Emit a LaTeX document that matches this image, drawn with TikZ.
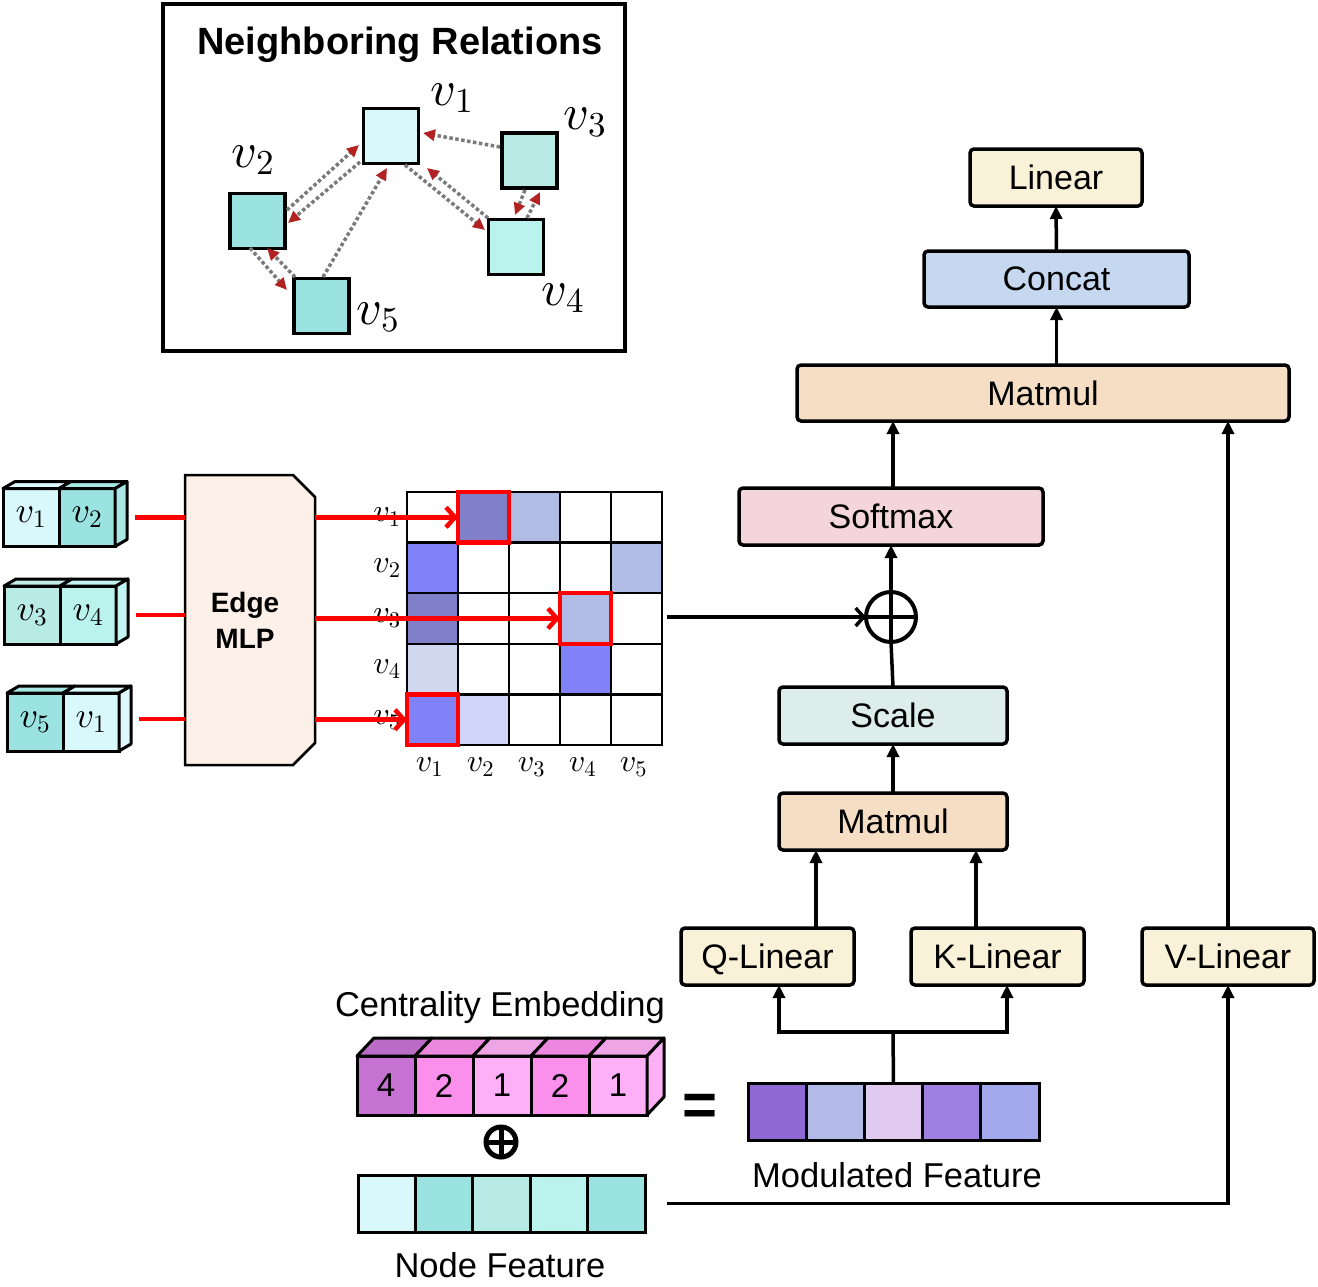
\documentclass[tikz,border=0pt]{standalone}
\usepackage[no-math]{fontspec}
\setmainfont{Liberation Sans}
\DeclareFontFamily{OML}{cmm}{\skewchar\font'177}
\DeclareFontShape{OML}{cmm}{m}{it}{<->cmmi10}{}
\DeclareFontFamily{OT1}{cmr}{\hyphenchar\font45 }
\DeclareFontShape{OT1}{cmr}{m}{n}{<->cmr10}{}
\DeclareFontFamily{OMS}{cmsy}{\skewchar\font'60}
\DeclareFontShape{OMS}{cmsy}{m}{n}{<->cmsy10}{}
\usetikzlibrary{arrows.meta,shapes.misc,calc}
\definecolor{cA}{HTML}{D8F8FC}
\definecolor{cB}{HTML}{9AE3E0}
\definecolor{cC}{HTML}{B8EAE6}
\definecolor{cD}{HTML}{BAF2EE}
\definecolor{dred}{HTML}{B22222}
\definecolor{mA}{HTML}{8080C8}
\definecolor{mB}{HTML}{8282F8}
\definecolor{mC}{HTML}{B0BCE4}
\definecolor{mD}{HTML}{D0D8F0}
\definecolor{mE}{HTML}{D0D4F8}
\definecolor{eA}{HTML}{C572D2}
\definecolor{eB}{HTML}{FA90EC}
\definecolor{eC}{HTML}{FDB0F5}
\definecolor{qA}{HTML}{9068D4}
\definecolor{qB}{HTML}{B4BAE8}
\definecolor{qC}{HTML}{E0CAF0}
\definecolor{qD}{HTML}{9E80E0}
\definecolor{qE}{HTML}{A4A8EC}
\definecolor{bLin}{HTML}{FAF2D8}
\definecolor{bCat}{HTML}{C5D8F0}
\definecolor{bMat}{HTML}{F5DEC4}
\definecolor{bSof}{HTML}{F5D5DD}
\definecolor{bSca}{HTML}{DDEEEA}
\definecolor{bMlp}{HTML}{FCF0E8}
\begin{document}
\begin{tikzpicture}[x=1pt,y=-1pt,
  every node/.style={outer sep=0pt, inner sep=0pt},
  blk/.style={draw, line width=3.5pt, rounded corners=4pt, text depth=0pt, font=\fontsize{34}{40}\selectfont},
  arr/.style={line width=3.5pt, -{Triangle[length=13pt,width=12pt]}},
  ln/.style={line width=3.5pt},
  gsq/.style={draw, line width=3.5pt, minimum width=55, minimum height=55},
  dedge/.style={line width=3.5pt, draw=black!52, dash pattern=on 3.5pt off 2.5pt, -{Triangle[length=12pt,width=11pt,color=dred]}},
  glab/.style={font=\fontsize{50}{60}\selectfont},
  pcell/.style={draw, line width=3pt, minimum width=56, minimum height=58, font=\fontsize{36}{42}\selectfont},
  face/.style={draw, line width=3pt, line join=round},
  redl/.style={draw=red, line width=4.5pt},
  redarr/.style={draw=red, line width=4.5pt, -{Straight Barb[length=9pt,width=20pt]}},
  mcell/.style={draw, line width=2.5pt, minimum width=51, minimum height=50.6},
  mlab/.style={font=\fontsize{32}{38}\selectfont},
  hl/.style={draw=red, line width=4.5pt},
  ecell/.style={draw, line width=3pt, minimum width=58, minimum height=59, font=\fontsize{33}{40}\selectfont},
  ncell/.style={draw, line width=3pt, minimum width=57.4, minimum height=57},
  qcell/.style={draw, line width=3pt, minimum width=58.2, minimum height=57},
  txt/.style={font=\fontsize{34.5}{40}\selectfont}
]
\useasboundingbox (0,0) rectangle (1318,1286);

% ---------- Neighboring relations ----------
\node[draw, line width=3.5pt, minimum width=462, minimum height=347] (gbox) at (394,177.5) {};
\node[font=\fontsize{38}{44}\selectfont\bfseries] (title) at (400,45) {Neighboring Relations};
\node[gsq, fill=cA] (g1) at (391,136) {};
\node[gsq, fill=cB] (g2) at (257.5,221) {};
\node[gsq, fill=cC] (g3) at (529.5,160.5) {};
\node[gsq, fill=cD] (g4) at (516,247) {};
\node[gsq, fill=cB] (g5) at (321.5,306) {};
\node[glab] (l1) at (452,98) {$v_1$};
\node[glab] (l2) at (253,160) {$v_2$};
\node[glab] (l3) at (585,122) {$v_3$};
\node[glab] (l4) at (563,298) {$v_4$};
\node[glab] (l5) at (378,317) {$v_5$};
\draw[dedge] ($(g2.center)+(29.5,-11)$) -- ($(g1.center)+(-32,9)$);
\draw[dedge] ($(g1.center)+(-31,26)$) -- ($(g2.center)+(30.5,2)$);
\draw[dedge] ($(g5.center)+(1.5,-29)$) -- ($(g1.center)+(-4,32)$);
\draw[dedge] ($(g3.center)+(-29.5,-13.5)$) -- ($(g1.center)+(32,-3)$);
\draw[dedge] ($(g1.center)+(14,29)$) -- ($(g4.center)+(-31,-17)$);
\draw[dedge] ($(g4.center)+(-28,-29)$) -- ($(g1.center)+(36,32)$);
\draw[dedge] ($(g3.center)+(-4.5,29.5)$) -- ($(g4.center)+(-1,-32)$);
\draw[dedge] ($(g4.center)+(11,-29)$) -- ($(g3.center)+(10.5,31.5)$);
\draw[dedge] ($(g2.center)+(-7.5,27)$) -- ($(g5.center)+(-34.5,-16)$);
\draw[dedge] ($(g5.center)+(-26.5,-29)$) -- ($(g2.center)+(9.5,27)$);

% ---------- node pairs ----------
\node[pcell, fill=cA] (p1a) at (31,517.5) {$v_1$};
\node[pcell, fill=cB] (p1b) at (87,517.5) {$v_2$};
\node[pcell, fill=cC] (p2a) at (32,615) {$v_3$};
\node[pcell, fill=cD] (p2b) at (88,615) {$v_4$};
\node[pcell, fill=cB] (p3a) at (35,722) {$v_5$};
\node[pcell, fill=cA] (p3b) at (91,722) {$v_1$};
\foreach \a/\b/\ca/\cb in {p1a/p1b/cA/cB, p2a/p2b/cC/cD, p3a/p3b/cB/cA}{
  \filldraw[face, fill=\ca!85!white] (\a.north west) -- ++(12,-7) -- ($(\a.north east)+(12,-7)$) -- (\a.north east) -- cycle;
  \filldraw[face, fill=\cb!85!white] (\b.north west) -- ++(12,-7) -- ($(\b.north east)+(12,-7)$) -- (\b.north east) -- cycle;
  \filldraw[face, fill=\cb!85!white] (\b.north east) -- ++(12,-7) -- ++(0,58) -- (\b.south east) -- cycle;
}

% ---------- Edge MLP ----------
\node[chamfered rectangle, chamfered rectangle corners={north east,south east},
      chamfered rectangle xsep=11pt, chamfered rectangle ysep=11pt,
      draw, line width=2.5pt, fill=bMlp, minimum width=130, minimum height=290,
      font=\fontsize{28}{36}\selectfont\bfseries, align=center] (mlp) at (250,620) {Edge\hspace*{10pt}\\MLP\hspace*{10pt}};
\draw[redl] ($(p1b.east)+(20,0)$) -- (p1b.east -| mlp.west);
\draw[redl] ($(p2b.east)+(20,0)$) -- (p2b.east -| mlp.west);
\draw[redl] ($(p3b.east)+(20,-3)$) -- ($(p3b.east -| mlp.west)+(0,-3)$);

% ---------- attention matrix ----------
\foreach \r/\c/\col in {1/1/white,1/2/mA,1/3/mC,1/4/white,1/5/white,
  2/1/mB,2/2/white,2/3/white,2/4/white,2/5/mC,
  3/1/mA,3/2/white,3/3/white,3/4/mC,3/5/white,
  4/1/mD,4/2/white,4/3/white,4/4/mB,4/5/white,
  5/1/mB,5/2/mE,5/3/white,5/4/white,5/5/white}{
  \node[mcell, fill=\col] (c\r\c) at ({407+(\c-0.5)*51},{492+(\r-0.5)*50.6}) {};
}
\node[minimum width=255, minimum height=253] (mat) at (534.5,618.5) {};
\foreach \i in {1,...,5}{
  \node[mlab] (rl\i) at (387,{492+(\i-0.5)*50.6}) {$v_\i$};
  \node[mlab] (cl\i) at ({404+(\i-0.5)*51},767) {$v_\i$};
}
\draw[hl] (c12.north west) rectangle (c12.south east);
\draw[hl] (c34.north west) rectangle (c34.south east);
\draw[hl] (c51.north west) rectangle (c51.south east);
\draw[redarr] (mlp.east |- c12.west) -- (c12.west);
\draw[redarr] (mlp.east |- c34.west) -- (c34.west);
\draw[redarr] (mlp.east |- c51.west) -- (c51.west);

% ---------- attention blocks ----------
\node[blk, fill=bLin, minimum width=172, minimum height=57] (lin) at (1056,177.5) {Linear};
\node[blk, fill=bCat, minimum width=265, minimum height=56] (cat) at (1056.5,279) {Concat};
\node[blk, fill=bMat, minimum width=492, minimum height=56] (mm1) at (1043,393) {Matmul};
\node[blk, fill=bSof, minimum width=304, minimum height=57] (sof) at (891,516.5) {Softmax};
\node[blk, fill=bSca, minimum width=228, minimum height=57] (sca) at (893,715.5) {Scale};
\node[blk, fill=bMat, minimum width=228, minimum height=57] (mm2) at (893,821.5) {Matmul};
\node[blk, fill=bLin, minimum width=173, minimum height=57] (ql) at (767.5,956.5) {Q-Linear};
\node[blk, fill=bLin, minimum width=173, minimum height=57] (kl) at (997.5,956.5) {K-Linear};
\node[blk, fill=bLin, minimum width=172, minimum height=57] (vl) at (1228,956.5) {V-Linear};
\node[circle, draw, line width=4pt, minimum size=50] (opl) at (891,617) {};
\draw[line width=4pt] (opl.north) -- (opl.south);
\draw[line width=4pt] (opl.west) -- (opl.east);

\draw[arr] (cat.north) -- (lin.south);
\draw[arr] (mm1.north -| cat.north) -- (cat.south);
\draw[arr] ([xshift=2pt]sof.north) -- ([xshift=2pt]sof.north |- mm1.south);
\draw[arr] (vl.north) -- (vl.north |- mm1.south);
\draw[arr] (opl.north) -- (sof.south);
\draw[ln] (sca.north) -- (opl.south);
\draw[arr] (mm2.north) -- (sca.south);
\draw[arr] ([xshift=48.5pt]ql.north) -- ([xshift=48.5pt]ql.north |- mm2.south);
\draw[arr] ([xshift=-21.5pt]kl.north) -- ([xshift=-21.5pt]kl.north |- mm2.south);
\draw[line width=3.5pt, -{Straight Barb[length=8pt,width=18pt]}, shorten <=5pt] (mat.east |- opl.west) -- (opl.west);

% ---------- centrality embedding ----------
\node[txt] (celab) at (500,1008) {Centrality Embedding};
\foreach \i/\col/\v in {1/eA/4,2/eB/2,3/eC/1,4/eB/2,5/eC/1}{
  \node[ecell, fill=\col] (e\i) at ({357+(\i-0.5)*58},1085.5) {\v};
  \filldraw[face, fill=\col!94!black] (e\i.north west) -- ++(17,-18) -- ($(e\i.north east)+(17,-18)$) -- (e\i.north east) -- cycle;
}
\filldraw[face, fill=eC] (e5.north east) -- ++(17,-18) -- ++(0,59) -- (e5.south east) -- cycle;
\node[circle, draw, line width=5pt, minimum size=30] (sop) at (501,1142) {};
\draw[line width=5pt] (sop.north) -- (sop.south);
\draw[line width=5pt] (sop.west) -- (sop.east);

% ---------- node feature ----------
\foreach \i/\col in {1/cA,2/cB,3/cC,4/cD,5/cB}{
  \node[ncell, fill=\col] (n\i) at ({358+(\i-0.5)*57.4},1203.5) {};
}
\node[txt] (nflab) at (500,1265) {Node Feature};

% ---------- modulated feature ----------
\node[font=\fontsize{60}{60}\selectfont\bfseries] (eq) at (700,1110) {=};
\foreach \i/\col in {1/qA,2/qB,3/qC,4/qD,5/qE}{
  \node[qcell, fill=\col] (m\i) at ({748+(\i-0.5)*58.2},1111.5) {};
}
\node[txt] (mflab) at (897,1175) {Modulated Feature};
\coordinate (split) at (893,1032);
\draw[ln] (m3.north) -- (split);
\draw[arr] ($(split)+(1.75,0)$) -| ([xshift=11.5pt]ql.south);
\draw[arr] ($(split)+(-1.75,0)$) -| ([xshift=9.5pt]kl.south);
\draw[arr, shorten <=22pt] (n5.east) -| (vl.south);
\end{tikzpicture}
\end{document}
